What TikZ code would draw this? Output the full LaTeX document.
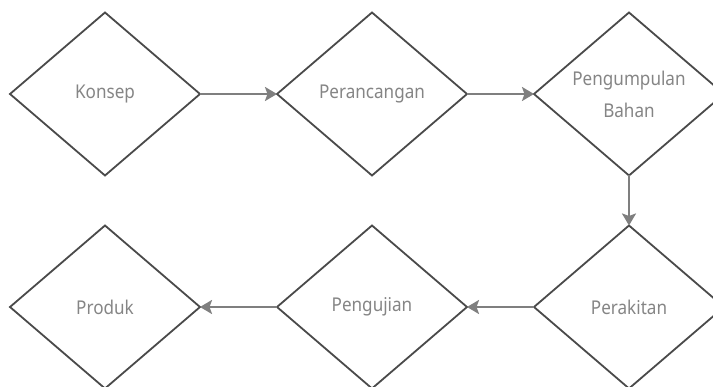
\documentclass[tikz,border=0pt]{standalone}
\usepackage{fontspec}
\newfontfamily\lblfont{Noto Sans}[FakeStretch=0.9]
\usetikzlibrary{shapes.geometric,arrows.meta}
\definecolor{edgec}{HTML}{4A4A4A}
\definecolor{arrc}{HTML}{7F7F7F}
\definecolor{txtc}{HTML}{858585}
\tikzset{
  stage/.style={diamond, draw=edgec, line width=1.8pt, minimum width=190pt, minimum height=163pt,
    inner sep=0pt, outer sep=0pt, align=center, text=txtc,
    font=\lblfont\fontsize{19pt}{32pt}\selectfont},
  flow/.style={draw=arrc, line width=2.8pt, -{Stealth[length=12pt,width=14pt,inset=2.5pt]}}
}
\begin{document}
\begin{tikzpicture}[x=1pt,y=-1pt]
\useasboundingbox (0,0) rectangle (713,387);
\node[stage] (konsep) at (105,94) {Konsep};
\node[stage] (rancang) at (372,94) {Perancangan};
\node[stage] (kumpul) at (629,94) {Pengumpulan\\Bahan};
\node[stage] (rakit) at (629,307) {Perakitan};
\node[stage] (uji) at (372,307) {Pengujian};
\node[stage] (produk) at (105,307) {Produk};
\draw[flow] (konsep.east) -- (rancang.west);
\draw[flow] (rancang.east) -- (kumpul.west);
\draw[flow] (kumpul.south) -- (rakit.north);
\draw[flow] (rakit.west) -- (uji.east);
\draw[flow] (uji.west) -- (produk.east);
\end{tikzpicture}
\end{document}
